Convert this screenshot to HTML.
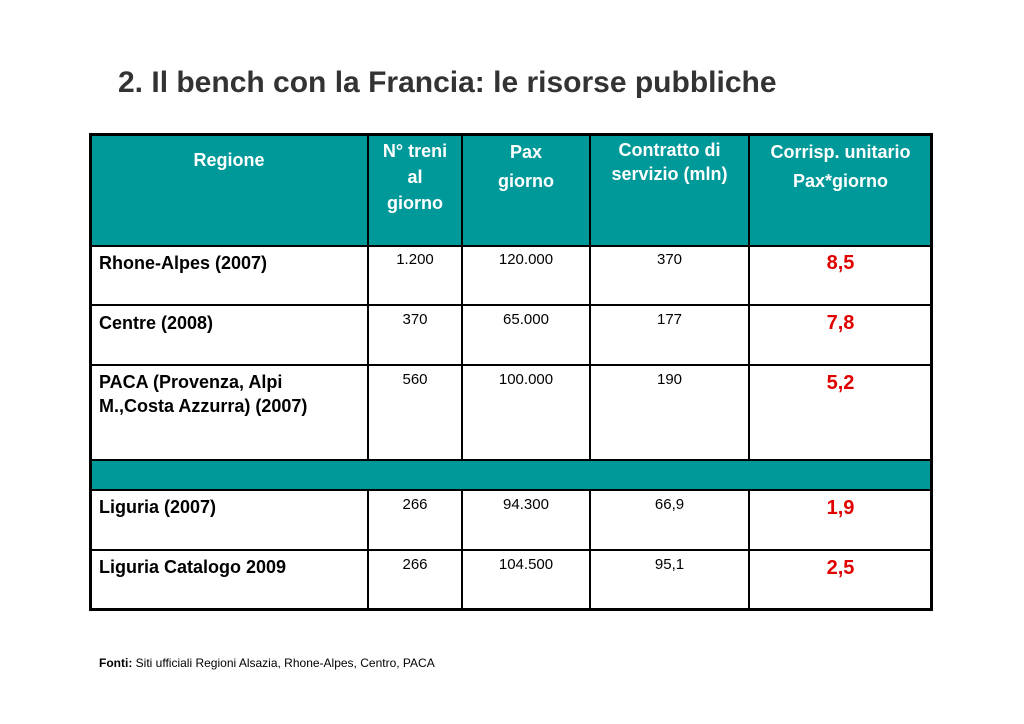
<!DOCTYPE html>
<html><head><meta charset="utf-8"><style>
body{margin:0;width:1024px;height:724px;background:#fff;position:relative;overflow:hidden;font-family:"Liberation Sans",Arial,sans-serif}
.a{position:absolute}
.h{position:absolute;color:#fff;font-weight:bold;font-size:18px;text-align:center;line-height:26px}
.c{position:absolute;font-size:15px;text-align:center;color:#000}
.r{position:absolute;font-size:18px;font-weight:bold;color:#000;left:99px;line-height:24px}
.v{position:absolute;font-size:20px;font-weight:bold;color:#e00000;text-align:center;left:750px;width:181px}
.vl{position:absolute;background:#000;width:2px}
.hl{position:absolute;background:#000;height:2px;left:90px;width:842px}
</style></head><body>
<div class="a" style="left:118px;top:66px;font-size:30px;font-weight:bold;color:#333">2. Il bench con la Francia: le risorse pubbliche</div>
<div>
<div class="a" style="left:90px;top:134px;width:842px;height:112px;background:#009999"></div>
<div class="a" style="left:90px;top:460px;width:842px;height:30px;background:#009999"></div>
<div class="h" style="left:90px;width:278px;top:147px">Regione</div>
<div class="h" style="left:368px;width:94px;top:138px">N° treni<br>al<br>giorno</div>
<div class="h" style="left:462px;width:128px;top:138px;line-height:29px">Pax<br>giorno</div>
<div class="h" style="left:590px;width:159px;top:138px;line-height:24px">Contratto di<br>servizio (mln)</div>
<div class="h" style="left:749px;width:183px;top:138px;line-height:29px">Corrisp. unitario<br>Pax*giorno</div>

<div class="r" style="top:251px">Rhone-Alpes (2007)</div>
<div class="c" style="left:368px;width:94px;top:251px">1.200</div>
<div class="c" style="left:462px;width:128px;top:251px">120.000</div>
<div class="c" style="left:590px;width:159px;top:251px">370</div>
<div class="v" style="top:252px">8,5</div>

<div class="r" style="top:311px">Centre (2008)</div>
<div class="c" style="left:368px;width:94px;top:311px">370</div>
<div class="c" style="left:462px;width:128px;top:311px">65.000</div>
<div class="c" style="left:590px;width:159px;top:311px">177</div>
<div class="v" style="top:312px">7,8</div>

<div class="r" style="top:370px">PACA (Provenza, Alpi<br>M.,Costa Azzurra) (2007)</div>
<div class="c" style="left:368px;width:94px;top:371px">560</div>
<div class="c" style="left:462px;width:128px;top:371px">100.000</div>
<div class="c" style="left:590px;width:159px;top:371px">190</div>
<div class="v" style="top:372px">5,2</div>

<div class="r" style="top:495px">Liguria (2007)</div>
<div class="c" style="left:368px;width:94px;top:496px">266</div>
<div class="c" style="left:462px;width:128px;top:496px">94.300</div>
<div class="c" style="left:590px;width:159px;top:496px">66,9</div>
<div class="v" style="top:497px">1,9</div>

<div class="r" style="top:555px">Liguria Catalogo 2009</div>
<div class="c" style="left:368px;width:94px;top:556px">266</div>
<div class="c" style="left:462px;width:128px;top:556px">104.500</div>
<div class="c" style="left:590px;width:159px;top:556px">95,1</div>
<div class="v" style="top:557px">2,5</div>

<div class="hl" style="top:133px;height:3px"></div>
<div class="hl" style="top:245px"></div>
<div class="hl" style="top:304px"></div>
<div class="hl" style="top:364px"></div>
<div class="hl" style="top:459px"></div>
<div class="hl" style="top:489px"></div>
<div class="hl" style="top:549px"></div>
<div class="hl" style="top:608px;height:3px"></div>
<div class="vl" style="left:89px;top:133px;height:478px;width:3px"></div>
<div class="vl" style="left:367px;top:133px;height:327px"></div>
<div class="vl" style="left:461px;top:133px;height:327px"></div>
<div class="vl" style="left:589px;top:133px;height:327px"></div>
<div class="vl" style="left:748px;top:133px;height:327px"></div>
<div class="vl" style="left:367px;top:490px;height:120px"></div>
<div class="vl" style="left:461px;top:490px;height:120px"></div>
<div class="vl" style="left:589px;top:490px;height:120px"></div>
<div class="vl" style="left:748px;top:490px;height:120px"></div>
<div class="vl" style="left:930px;top:133px;height:478px;width:3px"></div>
</div>
<div class="a" style="left:99px;top:656px;font-size:12px;color:#000"><b>Fonti:</b> Siti ufficiali Regioni Alsazia, Rhone-Alpes, Centro, PACA</div>
</body></html>
